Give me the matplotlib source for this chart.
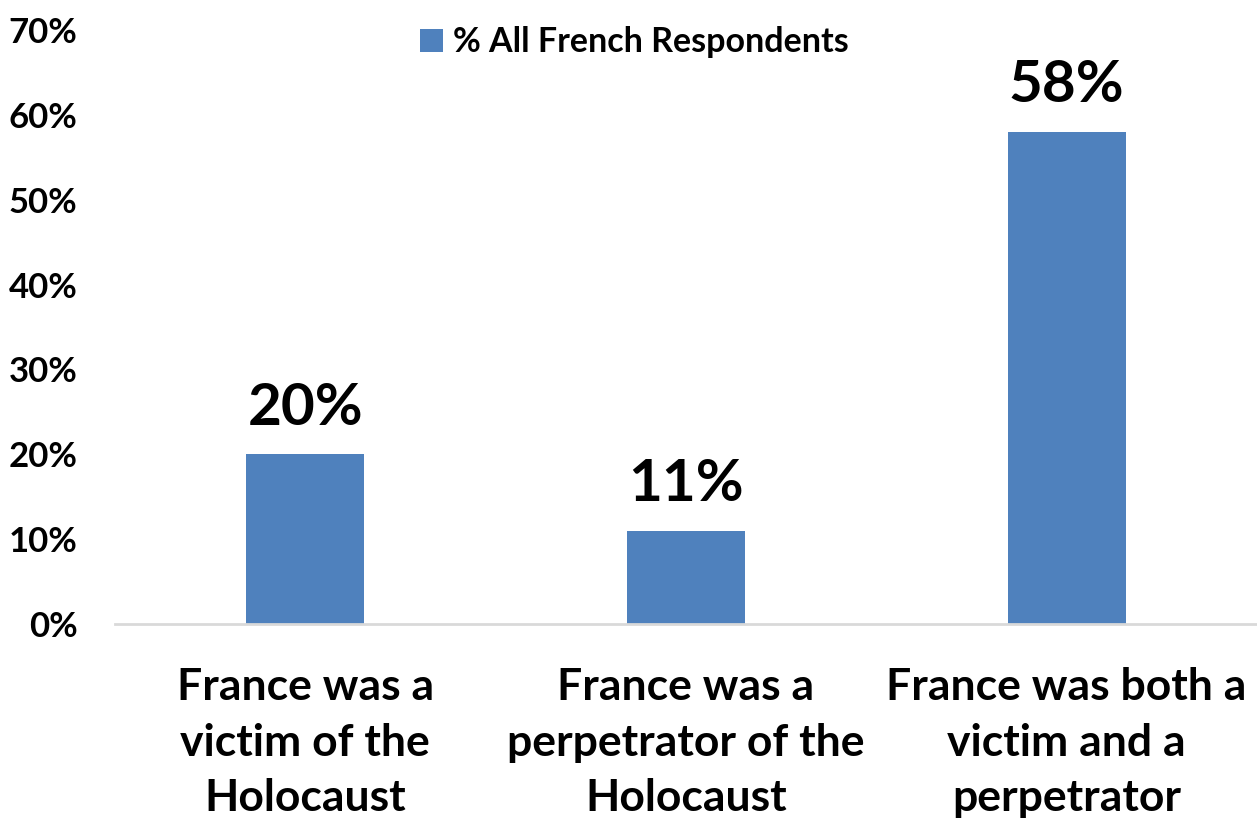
import matplotlib
matplotlib.use("Agg")
import matplotlib.pyplot as plt
from matplotlib.ticker import FuncFormatter

categories = ["France was a\nvictim of the\nHolocaust",
              "France was a\nperpetrator of the\nHolocaust",
              "France was both a\nvictim and a\nperpetrator"]
values = [20, 11, 58]
series_name = "% All French Respondents"
yticks = [0, 10, 20, 30, 40, 50, 60, 70]

FONT = "Lato"
plt.rcParams['font.family'] = [FONT, 'DejaVu Sans']

fig = plt.figure(figsize=(12.57, 8.23), dpi=100)
ax = fig.add_axes([115/1257, (823-624)/823, 1 - 115/1257, (624-30)/823])

x = list(range(len(categories)))
bars = ax.bar(x, values, width=0.31, color="#4f81bd", label=series_name, zorder=2)
ax.set_xlim(-0.5, 2.5)
ax.set_ylim(0, 70)
ax.set_yticks(yticks)
ax.yaxis.set_major_formatter(FuncFormatter(lambda v, p: f"{int(v)}%"))
ax.tick_params(axis='y', length=0, labelsize=25, pad=27)
for lab in ax.get_yticklabels():
    lab.set_fontweight('bold')
ax.set_xticks(x)
ax.set_xticklabels(categories, fontsize=32, fontweight='bold', linespacing=1.47)
ax.tick_params(axis='x', length=0, pad=31)
for s in ['top', 'right', 'left']:
    ax.spines[s].set_visible(False)
ax.spines['bottom'].set_color('#d9d9d9')
ax.spines['bottom'].set_linewidth(2)

for xi, v in zip(x, values):
    ax.annotate(f"{v}%", (xi, v), xytext=(0, 14), textcoords='offset points',
                ha='center', va='bottom', fontsize=42, fontweight='bold')

leg = ax.legend(loc='upper center', bbox_to_anchor=(0.455, 1.058), frameon=False,
                prop={'size': 24.5, 'weight': 'bold'}, handlelength=0.68, handleheight=0.68,
                handletextpad=0.3)

fig.savefig("out.png", dpi=100)
